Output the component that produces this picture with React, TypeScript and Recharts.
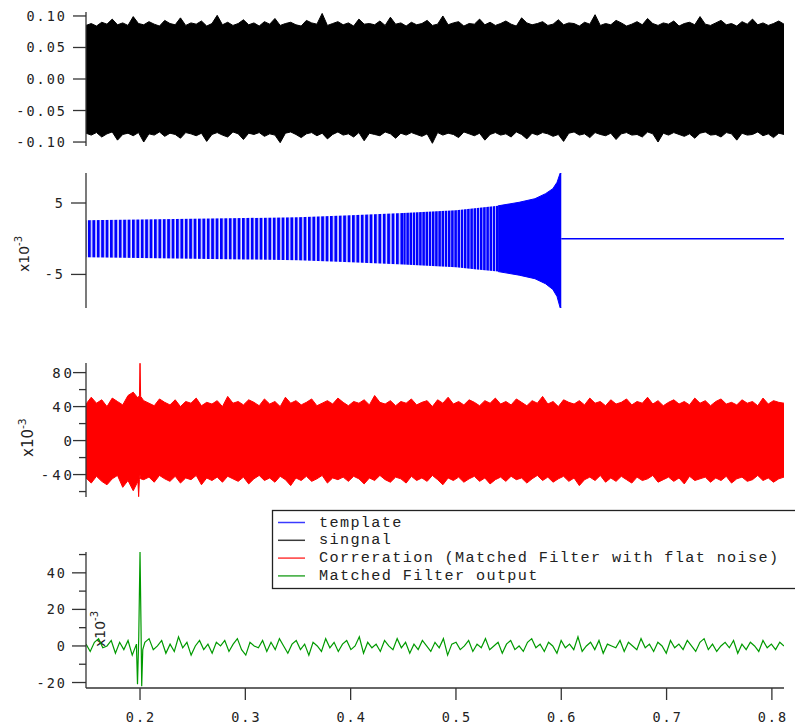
import React from 'react';
import { ComposedChart, Area, Line, XAxis, YAxis } from 'recharts';

const W = 795;
const H = 727;
const X_MIN = 0.1487;
const X_MAX = 0.8115;
const PLOT_LEFT = 86;
const RIGHT_MARGIN = 11;
const AXIS_COLOR = '#333';
const TEXT_COLOR = '#222';
const MONO = '"DejaVu Sans Mono", monospace';

const xTicks = [0.2, 0.3, 0.4, 0.5, 0.6, 0.7, 0.8];

// ---- singnal (black), band edges in units of 1e-3
const signalHi = [
  85, 88, 84, 90, 87, 95, 86, 89, 85, 99,
  88, 86, 91, 87, 84, 93, 88, 86, 97, 85,
  89, 87, 92, 84, 88, 101, 86, 90, 85, 88,
  94, 86, 89, 84, 91, 87, 96, 85, 88, 90,
  86, 84, 93, 89, 87, 104, 85, 88, 91, 86,
  89, 84, 95, 87, 88, 86, 92, 85, 98, 87,
  89, 84, 90, 86, 88, 93, 85, 87, 100, 86,
  89, 91, 84, 88, 87, 95, 86, 90, 85, 88,
  92, 87, 84, 97, 89, 86, 88, 91, 85, 87,
  94, 86, 89, 88, 84, 90, 87, 102, 85, 88,
  86, 93, 89, 84, 87, 91, 86, 96, 88, 85,
  89, 87, 92, 84, 88, 90, 86, 99, 87, 85,
  89, 93, 86, 88, 84, 91, 87, 95, 86, 89,
  85, 88, 92, 87,
];
const signalLo = [
  -86, -89, -85, -92, -87, -84, -97, -88, -86, -90,
  -85, -100, -87, -89, -84, -91, -86, -88, -94, -85,
  -87, -90, -86, -99, -88, -85, -89, -92, -84, -87,
  -96, -86, -88, -85, -91, -87, -89, -101, -86, -84,
  -88, -93, -87, -85, -90, -86, -95, -88, -84, -89,
  -87, -92, -85, -98, -86, -88, -90, -84, -87, -94,
  -86, -89, -85, -88, -91, -87, -102, -85, -89, -86,
  -88, -93, -84, -87, -90, -86, -97, -88, -85, -89,
  -87, -92, -84, -88, -95, -86, -89, -85, -87, -91,
  -88, -99, -86, -84, -89, -87, -93, -85, -88, -90,
  -86, -96, -87, -85, -89, -88, -92, -84, -87, -100,
  -86, -89, -85, -88, -91, -87, -94, -86, -84, -89,
  -88, -92, -85, -87, -97, -86, -89, -88, -84, -90,
  -87, -93, -86, -88,
];

// ---- template (blue chirp), envelope in units of 1e-3
const templateX = [0.1487, 0.2, 0.25, 0.3, 0.35, 0.4, 0.45, 0.5, 0.52, 0.54, 0.56, 0.575, 0.585, 0.592, 0.596, 0.599, 0.6];
const templateHi = [2.6, 2.7, 2.8, 2.9, 3.0, 3.3, 3.6, 4.0, 4.3, 4.6, 5.1, 5.6, 6.3, 7.0, 7.9, 9.2, 9.2];
const templateLo = [-2.6, -2.7, -2.8, -2.9, -3.0, -3.3, -3.6, -4.0, -4.3, -4.6, -5.1, -5.6, -6.3, -7.1, -8.1, -9.7, -9.7];
const TEMPLATE_END = 0.6;
const WIDE_STRIPE_END = 0.45;
const NARROW_STRIPE_END = 0.54;

// ---- Correlation (red), band edges in units of 1e-3
const corrHi = [
  43, 51, 44, 48, 40, 50, 46, 42, 53, 57,
  52, 47, 44, 41, 49, 45, 42, 48, 40, 46,
  44, 50, 41, 45, 43, 47, 40, 52, 44, 46,
  42, 48, 45, 41, 49, 43, 46, 40, 51, 44,
  47, 42, 45, 49, 41, 44, 47, 43, 50, 45,
  41, 46, 44, 48, 42, 53, 45, 43, 47, 41,
  46, 44, 49, 42, 45, 47, 40, 48, 44, 51,
  43, 46, 42, 48, 45, 41, 47, 44, 50, 43,
  46, 42, 49, 45, 41, 47, 44, 52, 43, 46,
  40, 48, 45, 43, 47, 42, 50, 44, 46, 41,
  48, 43, 45, 49, 42, 46, 44, 51, 43, 47,
  41, 45, 48, 43, 46, 42, 50, 44, 47, 41,
  46, 49, 43, 45, 42, 48, 44, 46, 41, 50,
  43, 47, 45, 44,
];
const corrLo = [
  -44, -50, -42, -48, -52, -45, -41, -55, -47, -59,
  -51, -46, -43, -49, -41, -45, -48, -42, -50, -44,
  -46, -41, -52, -44, -47, -43, -49, -42, -45, -48,
  -43, -51, -45, -41, -47, -44, -49, -42, -46, -53,
  -44, -47, -42, -48, -45, -41, -50, -44, -46, -43,
  -48, -42, -45, -51, -44, -47, -41, -46, -49, -43,
  -45, -50, -42, -47, -44, -48, -41, -46, -52, -44,
  -47, -43, -49, -45, -42, -48, -44, -51, -46, -43,
  -48, -42, -46, -44, -50, -45, -41, -47, -43, -49,
  -45, -42, -48, -44, -53, -46, -43, -47, -41, -49,
  -44, -48, -42, -46, -50, -43, -47, -45, -41, -49,
  -46, -43, -48, -44, -51, -42, -47, -45, -43, -49,
  -44, -47, -42, -50, -45, -43, -48, -46, -41, -47,
  -44, -49, -45, -43,
];
const corrSpikeX = [0.198, 0.1987, 0.1994, 0.2, 0.2006];
const corrSpikeHi = [50, 52, 48, 91, 52];
const corrSpikeLo = [-48, -66, -46, -40, -45];

// ---- Matched Filter output (green), units of 1e-3
const mfOut = [
  1, -3, 2, 4, -1, 0, 3, -4, 2, -2,
  3, -5, 1, -3, 2, 4, -2, 0, 3, -4,
  1, -3, 5, -1, 2, -5, 0, 3, -2, 1,
  -4, 2, 0, 3, -3, 1, 4, -2, -5, 2,
  0, -1, 3, -3, 2, -2, 4, 0, -4, 1,
  3, -2, 1, -5, 2, 0, -3, 4, -1, 2,
  -3, 1, 3, -2, 0, 5, -4, 2, -1, 1,
  -3, 3, 0, -2, 4, -1, 2, -4, 1, -2,
  3, 0, -3, 2, -1, 4, -5, 1, 2, -2,
  0, 3, -3, 1, -1, 4, -2, 0, 2, -4,
  1, 3, -2, 0, -3, 2, 4, -1, 1, -3,
  2, 0, -4, 3, -1, 1, -2, 5, -3, 0,
  2, -2, 3, -4, 1, 0, -1, 3, -3, 2,
  0, -2, 4, -1, 1, -3, 2, 0, -4, 3,
  -1, 1, -2, 3, 0, -3, 2, 4, -2, 1,
  -3, 0, 2, -1, 3, -4, 1, -2, 2, 0,
  -3, 3, -1, 1, -2, 2, 0,
];
const mfSpikeX = [0.1968, 0.1976, 0.1988, 0.2, 0.201, 0.2016, 0.2026];
const mfSpikeY = [-4, -21, 5, 51.5, 8, -22, -2];
const SPIKE_X = 0.2;
const SPIKE_WINDOW = 0.0025;

const legendNames = ['template', 'singnal', 'Correration (Matched Filter with flat noise)', 'Matched Filter output'];
const legendColors = ['#3a3aff', '#3a3a3a', '#ff3a3a', '#33a833'];

// ---- data building
const linspace = (n: number) =>
  Array.from({ length: n }, (_, i) => X_MIN + ((X_MAX - X_MIN) * i) / (n - 1));

const signalData = (() => {
  const n = Math.min(signalHi.length, signalLo.length);
  return linspace(n).map((x, i) => ({ x, band: [signalLo[i] / 1000, signalHi[i] / 1000] }));
})();

const templateData = [
  ...templateX.map((x, i) => {
    const r = [templateLo[i], templateHi[i]];
    return {
      x,
      wide: x <= WIDE_STRIPE_END ? r : null,
      narrow: x >= WIDE_STRIPE_END && x <= NARROW_STRIPE_END ? r : null,
      solid: x >= NARROW_STRIPE_END ? r : null,
      flat: x >= TEMPLATE_END ? 0 : null,
    };
  }),
  { x: X_MAX, wide: null, narrow: null, solid: null, flat: 0 },
];

const corrData = (() => {
  const n = Math.min(corrHi.length, corrLo.length);
  const grid = linspace(n)
    .map((x, i) => ({ x, band: [corrLo[i], corrHi[i]] }))
    .filter((d) => Math.abs(d.x - SPIKE_X) >= SPIKE_WINDOW);
  const spike = corrSpikeX.map((x, i) => ({ x, band: [corrSpikeLo[i], corrSpikeHi[i]] }));
  return [...grid, ...spike].sort((a, b) => a.x - b.x);
})();

const mfData = (() => {
  const grid = linspace(mfOut.length)
    .map((x, i) => ({ x, v: mfOut[i] }))
    .filter((d) => Math.abs(d.x - SPIKE_X) >= SPIKE_WINDOW);
  const spike = mfSpikeX.map((x, i) => ({ x, v: mfSpikeY[i] }));
  return [...grid, ...spike].sort((a, b) => a.x - b.x);
})();

// ---- ticks
type YTickCfg = {
  major: number[];
  fmt: (v: number) => string;
  majorLen: number;
  minorLen: number;
  gap: number;
  fontSize: number;
  spacing: number;
};

const makeYTick = (cfg: YTickCfg) => (props: any) => {
  const { y, payload } = props;
  const v = payload.value as number;
  const isMajor = cfg.major.some((m) => Math.abs(m - v) < 1e-9);
  const len = isMajor ? cfg.majorLen : cfg.minorLen;
  return (
    <g>
      <line x1={PLOT_LEFT - len} x2={PLOT_LEFT} y1={y} y2={y} stroke={AXIS_COLOR} strokeWidth={1.3} />
      {isMajor && (
        <text
          x={PLOT_LEFT - len - cfg.gap + cfg.spacing}
          y={y}
          textAnchor="end"
          dominantBaseline="central"
          fontFamily={MONO}
          fontSize={cfg.fontSize}
          letterSpacing={cfg.spacing}
          fill={TEXT_COLOR}
        >
          {cfg.fmt(v)}
        </text>
      )}
    </g>
  );
};

const p1Major = [-0.1, -0.05, 0, 0.05, 0.1];
const p2Major = [-5, 5];
const p3Major = [-40, 0, 40, 80];
const p3Minor = [-60, -20, 20, 60];
const p4Major = [-20, 0, 20, 40];
const p4Minor = [-10, 10, 30, 50];

const P1Tick = makeYTick({ major: p1Major, fmt: (v) => v.toFixed(2), majorLen: 13, minorLen: 7, gap: 8, fontSize: 13.5, spacing: 2 });
const P2Tick = makeYTick({ major: p2Major, fmt: (v) => String(v), majorLen: 15, minorLen: 7, gap: 8, fontSize: 13.5, spacing: 2 });
const P3Tick = makeYTick({ major: p3Major, fmt: (v) => String(v), majorLen: 13, minorLen: 7, gap: 1, fontSize: 14, spacing: 3 });
const P4Tick = makeYTick({ major: p4Major, fmt: (v) => String(v), majorLen: 14, minorLen: 7, gap: 7, fontSize: 13.5, spacing: 2 });

const XTick = (props: any) => {
  const { x, y, payload } = props;
  const sp = 2;
  return (
    <g>
      <line x1={x} x2={x} y1={y} y2={y + 12} stroke={AXIS_COLOR} strokeWidth={1.3} />
      <text
        x={x + sp / 2}
        y={y + 29}
        textAnchor="middle"
        dominantBaseline="central"
        fontFamily={MONO}
        fontSize={13.5}
        letterSpacing={sp}
        fill={TEXT_COLOR}
      >
        {String(payload.value)}
      </text>
    </g>
  );
};

const axisLineStyle = { stroke: AXIS_COLOR, strokeWidth: 1.3 };

const yAxisCommon = {
  type: 'number' as const,
  width: PLOT_LEFT,
  tickLine: false,
  axisLine: axisLineStyle,
  interval: 0 as const,
  tickSize: 0,
  tickMargin: 0,
  allowDataOverflow: true,
};

const Exponent = ({ x, y, size }: { x: number; y: number; size: number }) => (
  <text
    transform={`translate(${x},${y}) rotate(-90)`}
    fontFamily='"DejaVu Sans", sans-serif'
    fontSize={size}
    fill={TEXT_COLOR}
  >
    x10
    <tspan dy={-size * 0.5} fontSize={size * 0.72}>
      -3
    </tspan>
  </text>
);

export default function App() {
  return (
    <div style={{ position: 'absolute', left: 0, top: 0, width: W, height: H, background: '#fff', overflow: 'hidden' }}>
      {/* label drawn beneath the bottom panel's trace */}
      <svg width={W} height={H} style={{ position: 'absolute', left: 0, top: 0 }}>
        <Exponent x={105} y={647} size={14} />
      </svg>

      {/* Panel 1: singnal */}
      <div style={{ position: 'absolute', left: 0, top: 0 }}>
        <ComposedChart width={W} height={156} data={signalData} margin={{ top: 12, right: RIGHT_MARGIN, bottom: 10, left: 0 }}>
          <XAxis dataKey="x" type="number" domain={[X_MIN, X_MAX]} hide allowDataOverflow />
          <YAxis {...yAxisCommon} domain={[-0.1063, 0.1063]} ticks={p1Major} tick={P1Tick} />
          <Area dataKey="band" type="linear" stroke="#000" strokeWidth={1} fill="#000" fillOpacity={1} dot={false} activeDot={false} isAnimationActive={false} />
        </ComposedChart>
      </div>

      {/* Panel 2: template */}
      <div style={{ position: 'absolute', left: 0, top: 163 }}>
        <ComposedChart width={W} height={155} data={templateData} margin={{ top: 10, right: RIGHT_MARGIN, bottom: 10, left: 0 }}>
          <defs>
            <pattern id="chirpWide" patternUnits="userSpaceOnUse" x={0} y={0} width={4.4} height={8}>
              <rect x={0} y={0} width={4.4} height={8} fill="#eeeeff" />
              <rect x={0} y={0} width={2.9} height={8} fill="#0000ff" />
            </pattern>
            <pattern id="chirpNarrow" patternUnits="userSpaceOnUse" x={0} y={0} width={3.2} height={8}>
              <rect x={0} y={0} width={3.2} height={8} fill="#c8c8ff" />
              <rect x={0} y={0} width={2.4} height={8} fill="#0000ff" />
            </pattern>
          </defs>
          <XAxis dataKey="x" type="number" domain={[X_MIN, X_MAX]} hide allowDataOverflow />
          <YAxis {...yAxisCommon} domain={[-9.7, 9.2]} ticks={p2Major} tick={P2Tick} />
          <Area dataKey="wide" type="linear" stroke="none" fill="url(#chirpWide)" fillOpacity={1} dot={false} activeDot={false} isAnimationActive={false} />
          <Area dataKey="narrow" type="linear" stroke="none" fill="url(#chirpNarrow)" fillOpacity={1} dot={false} activeDot={false} isAnimationActive={false} />
          <Area dataKey="solid" type="linear" stroke="#0000ff" strokeWidth={1} fill="#0000ff" fillOpacity={1} dot={false} activeDot={false} isAnimationActive={false} />
          <Line dataKey="flat" type="linear" stroke="#0000ff" strokeWidth={1.5} dot={false} activeDot={false} isAnimationActive={false} />
        </ComposedChart>
      </div>

      {/* Panel 3: correlation */}
      <div style={{ position: 'absolute', left: 0, top: 353 }}>
        <ComposedChart width={W} height={154} data={corrData} margin={{ top: 10, right: RIGHT_MARGIN, bottom: 10, left: 0 }}>
          <XAxis dataKey="x" type="number" domain={[X_MIN, X_MAX]} hide allowDataOverflow />
          <YAxis {...yAxisCommon} domain={[-66.4, 91.3]} ticks={[...p3Major, ...p3Minor]} tick={P3Tick} />
          <Area dataKey="band" type="linear" stroke="#ff0000" strokeWidth={1} fill="#ff0000" fillOpacity={1} dot={false} activeDot={false} isAnimationActive={false} />
        </ComposedChart>
      </div>

      {/* Panel 4: matched filter output */}
      <div style={{ position: 'absolute', left: 0, top: 542 }}>
        <ComposedChart width={W} height={185} data={mfData} margin={{ top: 10, right: RIGHT_MARGIN, bottom: 0, left: 0 }}>
          <XAxis
            dataKey="x"
            type="number"
            domain={[X_MIN, X_MAX]}
            allowDataOverflow
            ticks={xTicks}
            interval={0}
            height={39}
            tickLine={false}
            tickSize={0}
            tickMargin={0}
            axisLine={axisLineStyle}
            tick={XTick}
          />
          <YAxis {...yAxisCommon} domain={[-23, 51.4]} ticks={[...p4Major, ...p4Minor]} tick={P4Tick} />
          <Line dataKey="v" type="linear" stroke="#009a00" strokeWidth={1.2} dot={false} activeDot={false} isAnimationActive={false} />
        </ComposedChart>
      </div>

      {/* overlays: exponents and legend */}
      <svg width={W} height={H} style={{ position: 'absolute', left: 0, top: 0, pointerEvents: 'none' }}>
        <Exponent x={29} y={272} size={14} />
        <Exponent x={33} y={457} size={15} />
        <rect x={272.5} y={510.5} width={540} height={78} fill="#fff" stroke="#222" strokeWidth={1.3} />
        {legendNames.map((name, i) => {
          const cy = 522.5 + i * 17.8;
          return (
            <g key={name}>
              <line x1={278} x2={305} y1={cy} y2={cy} stroke={legendColors[i]} strokeWidth={1.5} />
              <text
                x={319}
                y={cy}
                dominantBaseline="central"
                fontFamily='"Liberation Mono", "Courier New", monospace'
                fontSize={15.2}
                letterSpacing={1.35}
                fill={TEXT_COLOR}
              >
                {name}
              </text>
            </g>
          );
        })}
      </svg>
    </div>
  );
}
